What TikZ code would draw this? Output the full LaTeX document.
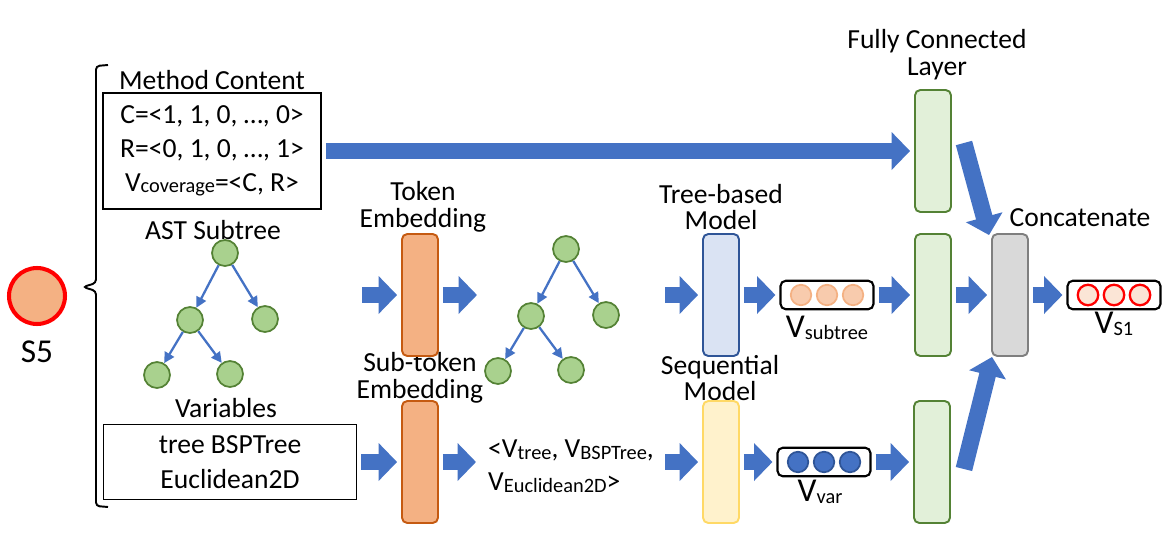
\documentclass[tikz,border=0pt]{standalone}
\usepackage{fontspec}
\setmainfont{Carlito}
\usetikzlibrary{arrows.meta}
\definecolor{arrblue}{HTML}{4472C4}
\definecolor{darkblue}{HTML}{2F5597}
\definecolor{embfill}{HTML}{F4B183}
\definecolor{embline}{HTML}{C55A11}
\definecolor{treefill}{HTML}{DAE3F3}
\definecolor{seqfill}{HTML}{FFF2CC}
\definecolor{seqline}{HTML}{FFD966}
\definecolor{fcfill}{HTML}{E2F0D9}
\definecolor{fcline}{HTML}{548235}
\definecolor{catfill}{HTML}{D9D9D9}
\definecolor{catline}{HTML}{7F7F7F}
\definecolor{leaffill}{HTML}{A9D18E}
\definecolor{subfill}{HTML}{F8CBAD}
\definecolor{outfill}{HTML}{FBE5D6}
\newcommand{\subtxt}[1]{\raisebox{-1pt}{\fontsize{11.6}{12}\selectfont #1}}
\begin{document}
\begin{tikzpicture}[x=0.02cm,y=-0.02cm,
        font=\fontsize{15.7}{15.3}\selectfont,
        blk/.style={line width=9.6pt,draw=arrblue,-{Triangle[length=10.5pt,width=21pt]},shorten <=0.08cm,shorten >=0.08cm},
        nnbox/.style={draw,line width=1.1pt,rounded corners=3pt,minimum width=0.72cm,minimum height=2.44cm},
        tnode/.style={circle,draw=fcline,fill=leaffill,line width=1pt,minimum size=0.52cm,inner sep=0pt},
        tarr/.style={draw=arrblue,line width=1.3pt,-{Triangle[length=6pt,width=6pt]}},
        vecbox/.style={draw,line width=1.2pt,rounded corners=3pt,minimum width=1.86cm,minimum height=0.57cm},
        vdot/.style={circle,minimum size=0.41cm,inner sep=0pt,line width=1pt},
        biglbl/.style={font=\fontsize{19}{19}\selectfont}]
    \useasboundingbox (0,0) rectangle (1173,551);
    \node[circle,draw=red,fill=embfill,line width=2.3pt,minimum size=1.12cm] (s5) at (37,296) {};
    \node[biglbl] (s5lbl) at (37,352) {S5};
    \draw[line width=1.1pt,rounded corners=2pt] (108,65) -- (96,66) -- (96,283) -- (83,287) -- (96,291) -- (96,506) -- (108,507);
    \node (mtitle) at (212,80) {Method Content};
    \node[draw,line width=1.1pt,minimum width=4.36cm,minimum height=2.32cm,align=center,font=\fontsize{15.7}{19.3}\selectfont] (mbox) at (212,151) {C=<1, 1, 0, …, 0>\\R=<0, 1, 0, …, 1>\\V\subtxt{coverage}=<C, R>};
    \node (asttitle) at (213,230) {AST Subtree};
    \foreach \t/\dx/\dy in {a/0/0,b/341/-4} {
        \node[tnode] (\t r) at (225+\dx,253+\dy) {};
        \node[tnode] (\t l) at (190+\dx,320+\dy) {};
        \node[tnode] (\t b) at (265+\dx,319+\dy) {};
        \node[tnode] (\t ll) at (157+\dx,375+\dy) {};
        \node[tnode] (\t lr) at (230+\dx,374+\dy) {};
        \draw[tarr] (\t r) -- (\t l);
        \draw[tarr] (\t r) -- (\t b);
        \draw[tarr] (\t l) -- (\t ll);
        \draw[tarr] (\t l) -- (\t lr);
    }
    \node (vartitle) at (226,408) {Variables};
    \node[draw,line width=1.1pt,minimum width=5.06cm,minimum height=1.5cm,align=center,font=\fontsize{15.7}{19.8}\selectfont] (varbox) at (230,462) {tree BSPTree\\Euclidean2D};
    \node[align=center] (embt) at (423,207) {Token\\Embedding};
    \node[align=center] (subt) at (420,378) {Sub-token\\Embedding};
    \node[align=center] (treet) at (721,207) {Tree-based\\Model};
    \node[align=center] (seqt) at (720,378) {Sequential\\Model};
    \node[align=center] (fct) at (937,55) {Fully Connected\\Layer};
    \node (catt) at (1080,218) {Concatenate};
    \node[nnbox,fill=embfill,draw=embline] (emb1) at (420,295) {};
    \node[nnbox,fill=embfill,draw=embline] (emb2) at (420,462) {};
    \node[nnbox,fill=treefill,draw=darkblue] (treem) at (721,295) {};
    \node[nnbox,fill=seqfill,draw=seqline] (seqm) at (721,462) {};
    \node[nnbox,fill=fcfill,draw=fcline] (fc1) at (933,151) {};
    \node[nnbox,fill=fcfill,draw=fcline] (fc2) at (933,295) {};
    \node[nnbox,fill=fcfill,draw=fcline] (fc3) at (932,462) {};
    \node[nnbox,fill=catfill,draw=catline] (cat) at (1010,295) {};
    \node[vecbox] (vsub) at (827,295) {};
    \node[vecbox] (vvar) at (824,462) {};
    \node[vecbox] (vs1) at (1114,295) {};
    \foreach \i in {-1,0,1} {
        \node[vdot,fill=subfill,draw=embfill] (vsub\i) at (827+26*\i,295) {};
        \node[vdot,fill=arrblue,draw=darkblue] (vvar\i) at (824+26*\i,462) {};
        \node[vdot,fill=outfill,draw=red,line width=1.3pt] (vs1\i) at (1114+26*\i,295) {};
    }
    \node (vsubl) at (827,328) {\fontsize{19}{19}\selectfont V\subtxt{subtree}};
    \node (vvarl) at (820,492) {\fontsize{19}{19}\selectfont V\subtxt{var}};
    \node (vs1l) at (1114,324) {\fontsize{19}{19}\selectfont V\subtxt{S1}};
    \node[anchor=west,align=left,font=\fontsize{15.7}{18.7}\selectfont] (vtxt) at (482,466) {<V\subtxt{tree}, V\subtxt{BSPTree},\\V\subtxt{Euclidean2D}>};
    \coordinate (in1) at (358,295);
    \coordinate (t2in) at (481,295);
    \coordinate (t2out) at (661,295);
    \coordinate (vecin) at (480,462);
    \coordinate (vecout) at (661,462);
    \draw[blk] (mbox) -- (fc1);
    \draw[blk] (in1) -- (emb1);
    \draw[blk] (emb1) -- (t2in);
    \draw[blk] (t2out) -- (treem);
    \draw[blk] (treem) -- (vsub);
    \draw[blk] (vsub) -- (fc2);
    \draw[blk] (fc2) -- (cat);
    \draw[blk] (cat) -- (vs1);
    \draw[blk] (varbox) -- (emb2);
    \draw[blk] (emb2) -- (vecin);
    \draw[blk] (vecout) -- (seqm);
    \draw[blk] (seqm) -- (vvar);
    \draw[blk] (vvar) -- (fc3);
    \draw[blk,shorten <=0pt,shorten >=0pt] ([xshift=0.24cm,yshift=0.16cm]fc1.east) -- ([xshift=-0.04cm,yshift=-0.04cm]cat.north west);
    \draw[blk,shorten <=0pt,shorten >=0pt] ([xshift=0.26cm,yshift=-0.14cm]fc3.east) -- ([xshift=0.02cm]cat.south west);
\end{tikzpicture}
\end{document}
